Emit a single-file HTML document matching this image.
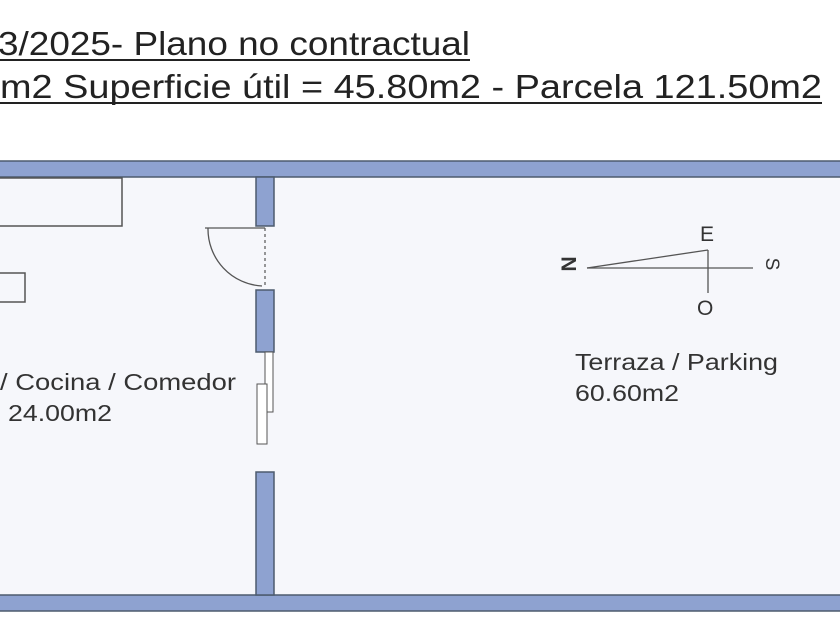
<!DOCTYPE html>
<html><head><meta charset="utf-8"><style>
html,body{margin:0;padding:0;background:#fff;width:840px;height:630px;overflow:hidden}
svg{display:block}
text{font-family:"Liberation Sans",Arial,sans-serif;fill:#333}
</style></head><body>
<svg width="840" height="630" viewBox="0 0 840 630" xmlns="http://www.w3.org/2000/svg">
<rect width="840" height="630" fill="#fff"/>
<text x="470" y="55" font-size="33" text-anchor="end" textLength="472" lengthAdjust="spacingAndGlyphs" style="fill:#222">3/2025- Plano no contractual</text>
<line x1="0" y1="60" x2="470" y2="60" stroke="#222" stroke-width="2"/>
<text x="822" y="98" font-size="33" text-anchor="end" textLength="822" lengthAdjust="spacingAndGlyphs" style="fill:#222">m2 Superficie útil = 45.80m2 - Parcela 121.50m2</text>
<line x1="0" y1="103" x2="822" y2="103" stroke="#222" stroke-width="2"/>
<rect x="0" y="177" width="840" height="418" fill="#f6f7fb"/>
<rect x="-2" y="161" width="850" height="16" fill="#8ea2d0" stroke="#4d5b6e" stroke-width="1.5"/>
<rect x="-2" y="595" width="850" height="16" fill="#8ea2d0" stroke="#4d5b6e" stroke-width="1.5"/>
<rect x="256" y="177" width="18" height="49" fill="#8ea2d0" stroke="#4d5b6e" stroke-width="1.5"/>
<rect x="256" y="290" width="18" height="62" fill="#8ea2d0" stroke="#4d5b6e" stroke-width="1.5"/>
<rect x="256" y="472" width="18" height="123" fill="#8ea2d0" stroke="#4d5b6e" stroke-width="1.5"/>
<line x1="265" y1="228" x2="265" y2="288" stroke="#555" stroke-width="1.2" stroke-dasharray="3,3"/>
<rect x="265" y="352" width="8" height="60" fill="#fff" stroke="#555" stroke-width="1"/>
<rect x="257" y="384" width="10" height="60" fill="#fff" stroke="#555" stroke-width="1"/>
<line x1="205" y1="228" x2="265" y2="228" stroke="#555" stroke-width="1.3"/>
<path d="M208 228 A57 57 0 0 0 262 286" fill="none" stroke="#555" stroke-width="1.3"/>
<path d="M0 178 H122 V226 H0" fill="none" stroke="#555" stroke-width="1.5"/>
<path d="M0 273 H25 V302 H0" fill="none" stroke="#555" stroke-width="1.5"/>
<text x="0" y="390" font-size="23" textLength="236" lengthAdjust="spacingAndGlyphs">/ Cocina / Comedor</text>
<text x="8" y="421" font-size="23" textLength="104" lengthAdjust="spacingAndGlyphs">24.00m2</text>
<text x="575" y="370" font-size="23" textLength="203" lengthAdjust="spacingAndGlyphs">Terraza / Parking</text>
<text x="575" y="401" font-size="23" textLength="104" lengthAdjust="spacingAndGlyphs">60.60m2</text>
<line x1="587" y1="268" x2="753" y2="268" stroke="#555" stroke-width="1.3"/>
<line x1="587" y1="268" x2="708" y2="250" stroke="#555" stroke-width="1.3"/>
<line x1="708" y1="250" x2="708" y2="293" stroke="#555" stroke-width="1.3"/>
<text x="700" y="241" font-size="21">E</text>
<text x="697" y="315" font-size="21">O</text>
<text x="567" y="264" font-size="21" transform="rotate(90 567 264)" text-anchor="middle" dominant-baseline="middle" style="font-weight:bold">N</text>
<text x="771" y="264" font-size="19" transform="rotate(90 771 264)" text-anchor="middle" dominant-baseline="middle">S</text>
</svg>
</body></html>
